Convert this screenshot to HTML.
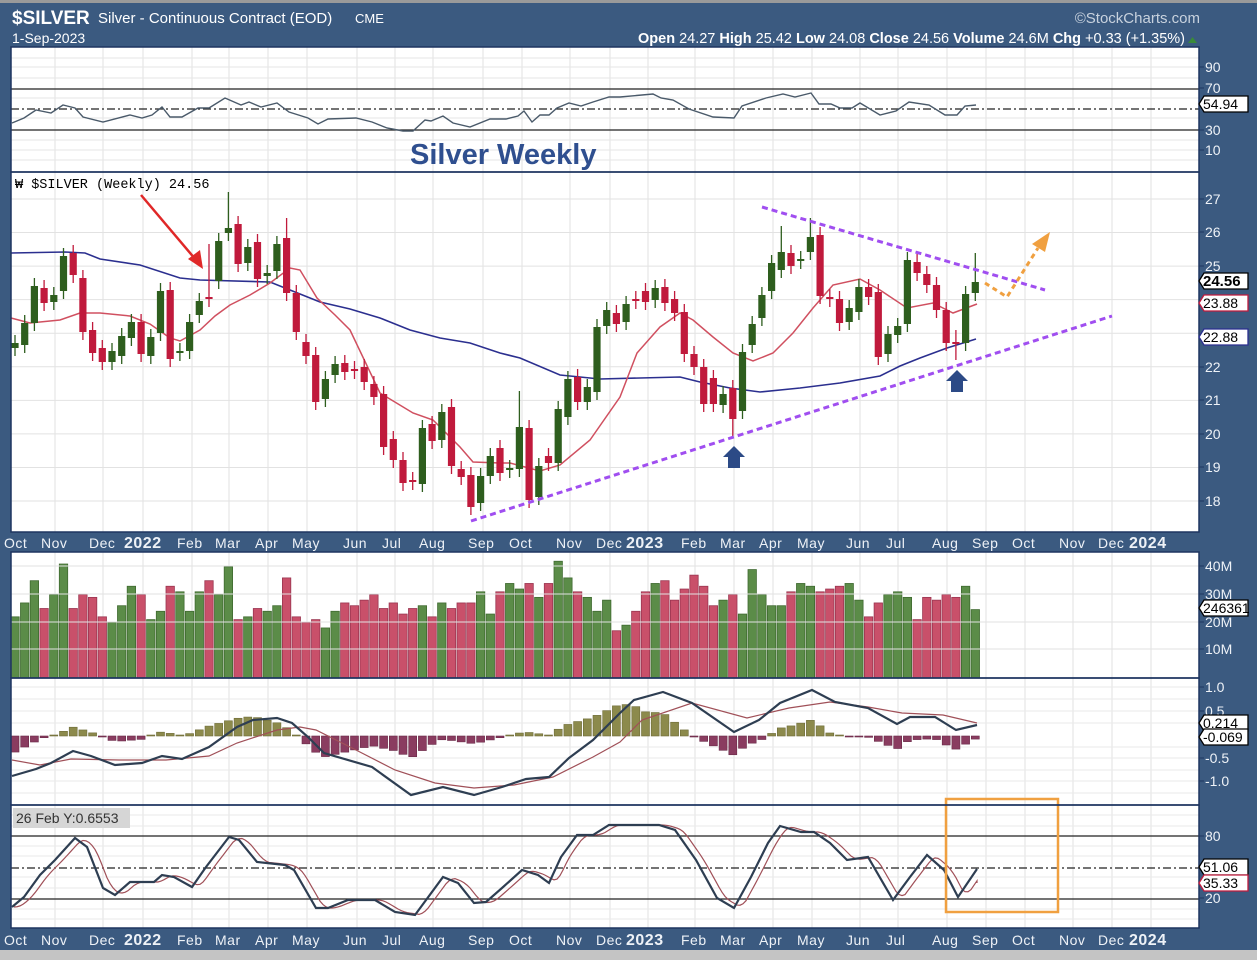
<!DOCTYPE html>
<html><head><meta charset="utf-8"><style>
html,body{margin:0;padding:0;background:#3b5a80;}
svg{display:block;font-family:"Liberation Sans",sans-serif;}
</style></head><body>
<svg id="s" width="1257" height="960" xmlns="http://www.w3.org/2000/svg">
<rect x="0" y="0" width="1257" height="960" fill="#3b5a80"/>
<rect x="0" y="0" width="1257" height="3" fill="#9a9a9a"/>
<rect x="0" y="950" width="1257" height="10" fill="#c4c4c4"/>
<text x="12" y="24" fill="#fff" font-size="19" font-weight="bold">$SILVER</text>
<text x="98" y="23" fill="#fff" font-size="15">Silver - Continuous Contract (EOD)</text>
<text x="355" y="23" fill="#fff" font-size="13">CME</text>
<text x="12" y="43" fill="#fff" font-size="14">1-Sep-2023</text>
<text x="1200" y="23" fill="#c8d2de" font-size="15" text-anchor="end">©StockCharts.com</text>
<text x="1185" y="43" fill="#fff" font-size="14.5" text-anchor="end"><tspan font-weight="bold">Open</tspan> 24.27 <tspan font-weight="bold">High</tspan> 25.42 <tspan font-weight="bold">Low</tspan> 24.08 <tspan font-weight="bold">Close</tspan> 24.56 <tspan font-weight="bold">Volume</tspan> 24.6M <tspan font-weight="bold">Chg</tspan> +0.33 (+1.35%)</text>
<polygon points="1188,43 1197,43 1192.5,37" fill="#3a8a3a"/>
<g id="g"></g>
</svg>
<script>
var NS="http://www.w3.org/2000/svg",G=document.getElementById('g');
function el(t,a,txt){var e=document.createElementNS(NS,t);for(var k in a)e.setAttribute(k,a[k]);if(txt!==undefined)e.textContent=txt;G.appendChild(e);return e;}
function pl(pts,st,w,extra){var a={points:pts.map(p=>p.join(',')).join(' '),fill:'none',stroke:st,'stroke-width':w};for(var k in extra)a[k]=extra[k];return el('polyline',a);}
var L=11,R=1199;
var panels=[[47,172],[172,532],[552,678],[678,805],[805,928]];
panels.forEach(p=>el('rect',{x:L,y:p[0],width:R-L,height:p[1]-p[0],fill:'#fff'}));
var vx=[55,103,143,192,229,268,307,357,395,433,483,522,570,610,648,695,734,773,812,860,898,947,986,1025,1073,1112,1151];
panels.forEach(p=>vx.forEach(x=>el('line',{x1:x,x2:x,y1:p[0],y2:p[1],stroke:'#e2e2e2','stroke-width':1})));
function hl(y,c,w,d){var a={x1:L,x2:R,y1:y,y2:y,stroke:c,'stroke-width':w||1};if(d)a['stroke-dasharray']=d;el('line',a);}
// RSI panel
[58,67,78,98,118,140,150,160].forEach(y=>hl(y,'#e6e6e6'));
hl(89,'#222',1.3);hl(130,'#222',1.3);hl(109,'#222',1.3,'8,3,2,3');
el('text',{x:410,y:164,fill:'#2f4f8f','font-size':29,'font-weight':'bold'},'Silver Weekly');
var rsi=[[12,123],[24,118],[36,110],[51,113],[63,105],[75,108],[83,117],[103,122],[130,115],[142,118],[152,115],[162,107],[170,117],[182,117],[198,108],[209,108],[225,98],[241,105],[249,102],[261,107],[277,103],[289,112],[308,118],[318,124],[328,119],[356,118],[372,122],[387,128],[403,131],[413,131],[425,120],[431,121],[443,116],[453,123],[470,127],[490,119],[506,119],[518,116],[524,111],[532,122],[540,115],[549,115],[557,108],[569,103],[581,106],[593,102],[609,97],[620,97],[653,94],[661,98],[673,100],[689,109],[713,117],[734,118],[742,106],[766,98],[783,94],[795,97],[811,93],[819,104],[831,104],[840,108],[852,108],[860,103],[880,115],[896,111],[909,102],[929,105],[945,115],[957,115],[965,106],[976,105]];
pl(rsi,'#4a5a6a',1.4);
// main panel grid
for(var p=18;p<=27;p++){var y=199+(27-p)*33.56;hl(y,'#e2e2e2');}
function py(p){return 199+(27-p)*33.56;}
el('text',{x:15,y:188,fill:'#000','font-size':13.5,'font-family':'Liberation Mono, monospace'},'₩ $SILVER (Weekly) 24.56');
// MAs
var blue=[[11,253],[65,252],[85,253],[100,259],[140,265],[180,278],[200,280],[270,282],[290,290],[320,302],[350,309],[380,318],[410,330],[440,338],[470,343],[500,353],[520,358],[560,375],[600,379],[640,378],[680,377],[700,382],[730,388],[760,392],[800,388],[840,383],[880,376],[900,366],[920,358],[947,348],[976,339]];
var red=[[11,318],[30,323],[60,320],[80,313],[100,313],[130,316],[150,324],[170,338],[180,341],[200,330],[215,316],[230,305],[250,295],[270,283],[290,268],[300,270],[317,298],[335,315],[350,330],[380,393],[413,413],[433,420],[460,447],[473,462],[500,463],[510,463],[540,471],[560,465],[590,440],[620,397],[637,353],[660,327],[680,313],[693,320],[713,337],[733,353],[753,361],[773,353],[793,333],[813,308],[833,285],[860,279],[880,290],[907,308],[933,303],[953,313],[977,304]];
pl(blue,'#2b2f8f',1.6);pl(red,'#d05060',1.5);
// candles
var C=[[343,348,'g'],[323,345,'g'],[286,323,'g'],[288,303,'r'],[295,302,'g'],[256,291,'g'],[253,275,'r'],[278,332,'r'],[330,353,'r'],[348,362,'r'],[351,362,'g'],[336,356,'g'],[322,338,'g'],[322,354,'r'],[337,356,'g'],[291,333,'g'],[290,359,'r'],[351,353,'g'],[322,351,'g'],[301,315,'g'],[297,299,'r',244],[241,281,'g'],[228,233,'g',192],[224,264,'r'],[247,263,'g'],[242,279,'r'],[273,276,'g'],[244,271,'g'],[238,293,'r',218],[293,332,'r'],[342,356,'r'],[355,402,'r'],[379,399,'g'],[364,375,'g'],[363,372,'r'],[369,371,'r'],[367,382,'r'],[384,397,'r'],[394,447,'r'],[439,460,'r'],[460,483,'r'],[480,482,'r'],[428,484,'g'],[424,441,'r'],[412,440,'g'],[407,466,'r'],[469,477,'r'],[475,507,'r'],[476,503,'g'],[456,476,'g'],[448,473,'r'],[468,470,'g'],[427,469,'g',391],[428,500,'r'],[466,497,'g'],[456,463,'r'],[409,463,'g'],[379,417,'g'],[377,402,'r'],[387,402,'g'],[327,392,'g'],[310,326,'g'],[313,324,'r'],[304,322,'g'],[299,301,'r'],[291,302,'r'],[288,300,'g'],[287,303,'r'],[299,313,'r'],[312,354,'r'],[354,367,'r'],[367,404,'r'],[378,404,'r'],[394,405,'g'],[388,419,'r',380,438],[352,411,'g'],[324,345,'g'],[295,318,'g'],[263,291,'g'],[252,270,'g',226],[253,266,'r'],[259,261,'g'],[237,252,'g',218],[235,296,'r'],[297,299,'r'],[299,323,'r'],[308,322,'g'],[287,312,'g'],[287,297,'r'],[292,357,'r'],[334,354,'g'],[326,335,'g'],[260,324,'g'],[262,273,'r'],[274,285,'r'],[285,310,'r'],[310,343,'r'],[342,344,'r',330,360],[294,343,'g'],[282,293,'g',253]];
var V=[22,27,35,25,30,41,25,30,29,22,20,26,33,30,21,24,33,31,24,31,35,30,40,21,22,25,24,26,36,22,20,21,18,24,27,26,28,30,25,27,23,25,26,22,27,25,27,27,31,23,31,34,32,34,29,34,42,36,31,29,24,28,17,19,24,31,34,35,28,32,37,33,26,28,30,23,39,30,26,26,31,34,33,31,32,33,34,28,22,27,30,31,29,21,29,28,30,29,33,24.6];
for(var i=0;i<100;i++){var x=15+i*9.7,c=C[i],col=c[2]=='g'?'#2e5e1e':'#c01a3c';
 var wt=c[3]||c[0]-8,wb=c[4]||c[1]+8;
 el('line',{x1:x,x2:x,y1:wt,y2:wb,stroke:col,'stroke-width':1.3});
 el('rect',{x:x-3.6,y:c[0],width:7.2,height:Math.max(2,c[1]-c[0]),fill:col});
 var vt=678-V[i]*2.78;
 el('rect',{x:x-4.2,y:vt,width:8.4,height:678-vt,fill:c[2]=='g'?'#5b8c48':'#c9506a',stroke:c[2]=='g'?'#3f6a30':'#9a3550','stroke-width':0.8});
}
// trendlines
el('line',{x1:471,y1:521,x2:1112,y2:316,stroke:'#a04ef0','stroke-width':3,'stroke-dasharray':'6,4'});
el('line',{x1:762,y1:207,x2:1045,y2:290,stroke:'#a04ef0','stroke-width':3,'stroke-dasharray':'6,4'});
pl([[985,283],[1007,297],[1038,248]],'#f0a040',3,{'stroke-dasharray':'5,4'});
el('polygon',{points:'1050,232 1032,244 1045,252',fill:'#f0a040'});
el('line',{x1:141,y1:195,x2:196,y2:260,stroke:'#e02828','stroke-width':2.5});
el('polygon',{points:'203,269 188,259 200,250',fill:'#e02828'});
function uparr(x,y){el('polygon',{points:(x-11)+','+(y+11)+' '+x+','+y+' '+(x+11)+','+(y+11)+' '+(x+6)+','+(y+11)+' '+(x+6)+','+(y+22)+' '+(x-6)+','+(y+22)+' '+(x-6)+','+(y+11),fill:'#2c4a86'});}
uparr(734,446);uparr(957,370);
// volume grid
[566,594,622,649].forEach(y=>hl(y,'#e2e2e2'));
// MACD
[687,699,711,723,747,758,770,781,793].forEach(y=>hl(y,'#e9e9e9'));
var md=[[12,776],[36,769],[51,763],[73,751],[91,756],[115,765],[142,763],[162,756],[182,759],[209,747],[237,727],[253,720],[277,718],[292,723],[308,737],[324,753],[372,767],[411,795],[443,787],[474,795],[502,787],[526,779],[549,777],[569,758],[593,740],[620,713],[634,700],[663,692],[692,703],[734,732],[759,720],[780,703],[812,690],[835,702],[868,708],[897,724],[910,717],[935,717],[956,730],[977,725]];
var sg=[[12,760],[40,765],[71,759],[119,760],[166,760],[209,756],[237,743],[277,730],[300,727],[316,730],[356,750],[395,770],[435,783],[474,788],[514,785],[553,777],[593,757],[620,742],[642,720],[692,703],[747,718],[789,708],[830,702],[868,707],[902,713],[943,715],[977,723]];
function itp(a,x){if(x<=a[0][0])return a[0][1];for(var k=1;k<a.length;k++){if(x<=a[k][0]){var t=(x-a[k-1][0])/(a[k][0]-a[k-1][0]);return a[k-1][1]+t*(a[k][1]-a[k-1][1]);}}return a[a.length-1][1];}
for(var i=0;i<100;i++){var x=15+i*9.7,d=(itp(sg,x)-itp(md,x))*1.1;
 if(Math.abs(d)<1)d=d<0?-1:1;
 el('rect',{x:x-4,y:d>0?736-d:736,width:8,height:Math.abs(d),fill:d>0?'#8c8a4c':'#8a3c60',stroke:d>0?'#6e6c38':'#6a2a48','stroke-width':0.6});}
pl(sg,'#a05058',1.2);pl(md,'#2e3e52',2.2);
// Stoch
[815,826,846,856,877,888,909,919].forEach(y=>hl(y,'#e9e9e9'));
hl(836,'#222',1.3);hl(899,'#222',1.3);hl(868,'#222',1.3,'8,3,2,3');
var st=[[12,907],[24,897],[40,875],[55,860],[75,838],[87,847],[103,888],[115,895],[130,882],[154,882],[162,875],[174,877],[192,887],[206,867],[229,837],[239,840],[257,862],[285,865],[294,870],[316,908],[328,908],[348,900],[375,900],[395,912],[415,915],[443,877],[458,883],[474,903],[486,902],[502,888],[522,870],[538,875],[549,883],[561,857],[577,835],[593,835],[609,825],[617,825],[659,825],[675,830],[696,860],[717,898],[734,908],[751,877],[768,843],[780,826],[801,832],[814,832],[830,843],[847,860],[868,857],[893,900],[910,877],[927,855],[944,870],[958,897],[977,869]];
var ss=[];for(var x=14;x<=977;x+=3){ss.push([x,(itp(st,x-4)+itp(st,x-8)+itp(st,x-12))/3]);}
ss.push([977,883]);
pl(ss,'#a05058',1.2);pl(st,'#2e3e52',2.2);
el('rect',{x:946,y:799,width:112,height:113,fill:'none',stroke:'#f0a040','stroke-width':2.5});
el('rect',{x:13,y:808,width:117,height:20,fill:'#d6d6d6'});
el('text',{x:16,y:823,'font-size':14,fill:'#333'},'26 Feb Y:0.6553');
// panel borders
panels.forEach(p=>el('rect',{x:L,y:p[0],width:R-L,height:p[1]-p[0],fill:'none',stroke:'#1e3560','stroke-width':1.5}));
// right labels
function rl(y,t){el('text',{x:1205,y:y+5,fill:'#eef2f7','font-size':14},t);el('line',{x1:1199,x2:1204,y1:y,y2:y,stroke:'#1e3560'});}
function box(y,t,bc,bold){el('polygon',{points:'1199,'+y+' 1204,'+(y-8)+' 1248,'+(y-8)+' 1248,'+(y+8)+' 1204,'+(y+8),fill:'#fff',stroke:bc,'stroke-width':1.3});
 el('text',{x:1203,y:y+5,fill:'#000','font-size':bold?15:14,'font-weight':bold?'bold':'normal'},t);}
rl(67,'90');rl(88,'70');rl(130,'30');rl(150,'10');box(104,'54.94','#000');
[[199,'27'],[232,'26'],[266,'25'],[367,'22'],[400,'21'],[434,'20'],[467,'19'],[501,'18']].forEach(a=>rl(a[0],a[1]));
box(281,'24.56','#000',1);box(303,'23.88','#c01a3c');box(337,'22.88','#2b2f8f');
rl(566,'40M');rl(594,'30M');rl(622,'20M');rl(649,'10M');box(608,'246361','#000');
rl(687,'1.0');rl(711,'0.5');rl(758,'-0.5');rl(781,'-1.0');box(723,'0.214','#000');box(737,'-0.069','#000');
rl(836,'80');rl(898,'20');box(867,'51.06','#000');box(883,'35.33','#c01a3c');
// month labels
var ml=[[4,'Oct'],[41,'Nov'],[89,'Dec'],[124,'2022',1],[177,'Feb'],[215,'Mar'],[255,'Apr'],[292,'May'],[343,'Jun'],[382,'Jul'],[419,'Aug'],[468,'Sep'],[509,'Oct'],[556,'Nov'],[596,'Dec'],[626,'2023',1],[681,'Feb'],[720,'Mar'],[759,'Apr'],[797,'May'],[846,'Jun'],[886,'Jul'],[932,'Aug'],[972,'Sep'],[1012,'Oct'],[1059,'Nov'],[1098,'Dec'],[1129,'2024',1]];
[548,945].forEach(yy=>ml.forEach(m=>el('text',{x:m[0],y:yy,fill:'#eef2f7','font-size':m[2]?16:14,'font-weight':m[2]?'bold':'normal','letter-spacing':'0.5'},m[1])));
</script>
</body></html>
